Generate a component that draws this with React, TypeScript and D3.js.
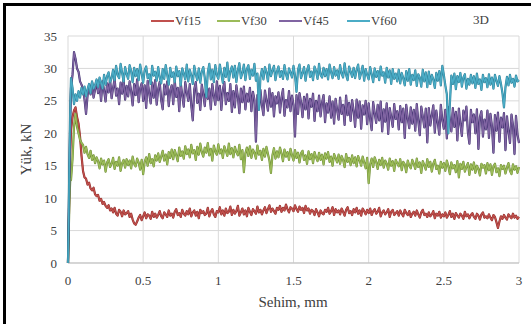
import React from "react";
import * as d3 from "d3";

const W = 531;
const H = 324;

const xTicks = [0, 0.5, 1, 1.5, 2, 2.5, 3];
const yTicks = [0, 5, 10, 15, 20, 25, 30, 35];
const seriesNames = ["Vf15", "Vf30", "Vf45", "Vf60"];
const seriesColors = ["#C0504D", "#9BBB59", "#8064A2", "#4BACC6"];
const seriesEdge = ["#8E2A27", "#6E8C35", "#3E2F6E", "#2E7F96"];

// deflection sampling (mm): fine steps at the start, then every 0.01 mm
const earlyX = [0, 0.005, 0.01, 0.015, 0.02, 0.03, 0.04, 0.05, 0.06, 0.07, 0.08, 0.09];
const mainX = d3.range(291).map((i) => +(0.1 + 0.01 * i).toFixed(3));

const vf15 = [
  0, 6, 12, 17, 20.5, 22.5, 23.5, 24, 22.5, 21.5, 19.5, 16.5,
  14.2, 13.2, 13.0, 12.1, 12.4, 11.5, 11.2, 11.6, 10.6, 10.3,
  10.5, 9.6, 9.9, 9.1, 9.4, 8.8, 8.5, 8.9, 8.1, 8.4,
  7.8, 8.5, 7.6, 7.3, 8.2, 7.9, 7.2, 8.1, 7.5, 7.7,
  8.0, 7.1, 7.6, 6.7, 6.1, 5.9, 6.4, 7.0, 7.4, 6.6,
  7.2, 7.8, 6.9, 7.5, 7.3, 6.8, 7.9, 7.1, 7.6, 7.0,
  7.4, 8.0, 7.2, 6.9, 7.8, 7.5, 7.1, 8.1, 7.3, 7.6,
  7.0, 7.9, 8.3, 7.4, 7.7, 7.1, 8.2, 7.6, 7.3, 8.0,
  7.5, 8.4, 7.2, 7.8, 8.1, 7.3, 7.9, 6.9, 8.2, 7.7,
  8.0, 7.4, 7.6, 8.5, 7.2, 7.9, 8.3, 7.5, 7.1, 8.0,
  7.8, 8.6, 7.5, 8.1, 7.3, 8.4, 7.7, 7.9, 8.7, 7.4,
  8.2, 7.6, 8.0, 8.8, 7.3, 7.8, 8.4, 7.5, 8.1, 7.2,
  8.5, 7.9, 7.4, 8.3, 8.0, 7.6, 8.7, 7.8, 8.2, 7.5,
  8.1, 8.6, 7.7, 8.3, 8.9, 7.9, 8.4, 8.0, 7.6, 8.5,
  8.2, 8.8, 7.9, 8.5, 8.1, 9.0, 8.3, 7.8, 8.6, 8.4,
  8.0, 8.9, 8.3, 7.9, 8.7, 8.2, 8.5, 7.7, 8.8, 8.1,
  8.4, 7.6, 8.2, 8.0, 7.4, 8.3, 7.8, 7.2, 8.1, 7.7,
  7.5, 8.2, 7.9, 8.5, 7.6, 8.0, 8.6, 7.4, 8.3, 7.8,
  8.1, 7.5, 8.4, 7.9, 7.3, 8.2, 8.6, 7.7, 8.0, 7.4,
  8.3, 7.8, 8.5, 7.6, 8.1, 7.3, 8.4, 8.0, 7.5, 8.2,
  7.7, 8.4, 7.4, 8.0, 8.3, 7.6, 7.9, 8.5, 7.2, 7.8,
  8.1, 7.5, 7.8, 8.3, 7.1, 7.9, 8.2, 7.4, 7.7, 8.0,
  7.3, 8.1, 7.6, 7.2, 8.2, 7.7, 7.4, 8.0, 7.1, 7.6,
  7.9, 7.3, 8.1, 7.5, 7.0, 7.8, 8.2, 7.4, 7.6, 7.1,
  7.8, 7.2, 7.5, 8.0, 6.9, 7.6, 7.3, 7.9, 7.0, 7.5,
  7.2, 7.8, 7.0, 7.4, 8.0, 7.1, 7.6, 6.8, 7.7, 7.3,
  7.0, 7.6, 7.3, 6.8, 7.9, 7.2, 7.5, 6.9, 7.4, 7.7,
  7.1, 6.8, 7.6, 7.3, 6.7, 7.5, 7.8, 7.0, 7.2, 6.9,
  7.5, 7.0, 6.6, 7.4, 7.1, 6.3, 5.4, 6.4, 7.2, 6.8,
  7.4, 7.0, 6.7, 7.5, 7.2, 6.9, 7.6, 7.0, 7.3, 6.8,
  7.1,
];

const vf30 = [
  0, 5, 10, 13, 12.8, 16, 21, 23, 21, 20, 19, 18.5,
  18.2, 17.0, 17.9, 16.8, 16.2, 17.3, 15.9, 16.6, 15.4, 16.3,
  15.7, 14.6, 16.1, 15.2, 15.8, 14.1, 15.5, 16.0, 14.8, 15.3,
  16.2, 14.5, 15.6, 15.0, 16.3, 14.2, 15.4, 15.9, 14.7, 16.0,
  15.1, 15.8, 14.6, 16.4, 15.3, 14.9, 16.1, 15.5, 14.4, 15.9,
  13.7, 15.6, 16.3, 15.0, 16.8, 15.4, 16.0, 14.9, 16.6, 15.8,
  16.9, 15.6, 16.4, 17.3, 15.8, 16.7, 15.2, 17.1, 16.2, 17.5,
  16.0, 17.4, 16.6, 15.7, 17.8, 16.5, 17.2, 16.1, 18.0, 16.8,
  17.5, 16.3, 18.2, 16.9, 17.4, 15.9, 17.9, 16.7, 18.4, 17.1,
  16.4, 17.8, 17.0, 18.5, 16.6, 17.6, 15.8, 18.1, 17.2, 16.7,
  18.3, 16.9, 17.5, 16.2, 18.0, 17.3, 16.5, 18.4, 16.8, 17.7,
  16.3, 17.9, 17.1, 16.6, 18.2, 16.0, 17.4, 14.0, 16.9, 17.8,
  16.5, 18.0, 16.2, 17.5, 17.0, 16.1, 18.1, 16.7, 17.3, 15.9,
  17.6, 16.4, 17.9, 16.8, 15.8, 13.9, 16.6, 17.7, 16.1, 17.2,
  16.3, 17.8, 16.9, 15.7, 17.5, 16.4, 17.1, 15.9, 17.6, 16.6,
  15.8, 17.4, 16.2, 17.0, 15.5, 16.9, 17.3, 15.9, 16.6, 15.3,
  17.2, 16.0, 16.8, 15.4, 17.1, 16.3, 15.7, 17.0, 15.9, 16.7,
  15.2, 16.9, 16.1, 17.1, 15.6, 16.4, 15.0, 16.8, 16.2, 15.5,
  16.7, 15.3, 16.5, 15.9, 14.8, 16.8, 15.6, 16.2, 15.1, 16.6,
  15.4, 16.3, 14.9, 16.5, 15.8, 15.0, 16.4, 15.5, 14.6, 16.2,
  12.3, 15.2, 16.1, 14.8, 16.3, 15.6, 14.5, 15.9, 15.1, 16.2,
  14.7, 15.8, 15.3, 14.4, 16.1, 15.0, 15.7, 14.2, 15.9, 15.4,
  14.9, 16.0, 14.3, 15.6, 15.2, 14.0, 15.8, 15.0, 14.6, 15.9,
  15.3, 14.5, 16.1, 14.8, 15.5, 13.9, 15.7, 15.1, 14.4, 16.0,
  14.8, 15.6, 14.1, 15.3, 15.9, 14.5, 15.0, 13.8, 15.6, 14.7,
  15.4, 14.2, 15.8, 14.9, 13.7, 15.5, 14.6, 15.1, 14.0, 15.7,
  13.2, 15.3, 14.5, 15.6, 14.1, 14.8, 15.4, 13.6, 15.2, 14.4,
  15.5, 13.9, 15.0, 14.5, 13.5, 15.3, 14.7, 15.1, 13.8, 15.4,
  14.3, 15.2, 13.6, 14.9, 15.3, 14.0, 14.6, 13.4, 15.1, 14.5,
  15.0, 13.8, 14.7, 15.4, 14.2, 13.7, 15.2, 14.4, 14.9, 13.9,
  14.8,
];

const vf45 = [
  0, 7, 15, 22, 27, 29, 32.5, 31.5, 30, 29.5, 28, 27.5,
  26.8, 25.2, 23.0, 25.8, 27.4, 26.0, 27.9, 25.5, 26.7, 28.1,
  26.2, 27.5, 25.0, 28.0, 26.6, 24.9, 27.7, 26.3, 28.3, 25.4,
  27.0, 28.4, 25.8, 26.9, 24.5, 27.8, 26.1, 28.2, 25.2, 27.3,
  25.7, 28.0, 26.5, 24.3, 27.6, 25.9, 28.3, 24.8, 26.9, 27.7,
  25.0, 27.4, 23.9, 28.1, 26.2, 24.6, 27.8, 25.5, 28.2, 24.4,
  26.8, 27.9, 25.1, 23.7, 27.5, 26.0, 28.0, 24.2, 26.6, 27.4,
  24.5, 28.1, 25.6, 27.0, 23.4, 27.7, 25.9, 24.1, 27.9, 26.3,
  25.0, 27.6, 24.3, 22.0, 26.8, 27.9, 24.7, 26.1, 23.6, 27.5,
  26.0, 24.2, 27.8, 25.3, 26.9, 23.7, 27.6, 25.8, 24.4, 28.0,
  25.1, 27.3, 23.6, 26.7, 27.9, 24.5, 26.2, 25.0, 27.6, 23.3,
  26.5, 24.0, 27.4, 25.6, 23.1, 26.9, 24.8, 27.2, 23.7, 26.1,
  24.9, 27.0, 23.4, 26.4, 25.2, 18.7, 25.9, 23.8, 26.7, 24.3,
  22.8, 26.6, 25.0, 23.5, 26.9, 24.1, 26.2, 22.6, 25.7, 24.6,
  26.3, 23.2, 25.5, 26.8, 22.7, 25.1, 24.0, 26.5, 23.4, 25.8,
  24.4, 19.5, 25.9, 23.0, 26.2, 24.8, 22.5, 25.6, 23.7, 26.0,
  22.3, 25.3, 24.1, 26.1, 21.9, 25.0, 23.4, 25.8, 22.6, 24.7,
  25.9, 21.7, 24.6, 23.2, 25.7, 22.4, 24.9, 21.5, 25.3, 23.6,
  22.1, 25.5, 23.0, 24.4, 21.3, 25.8, 22.8, 24.7, 21.9, 25.1,
  23.5, 21.0, 25.2, 22.4, 24.9, 20.7, 24.3, 22.9, 25.0, 21.4,
  24.6, 22.2, 20.5, 24.8, 23.1, 21.6, 24.4, 22.0, 24.9, 20.3,
  23.7, 21.8, 24.6, 19.9, 23.9, 22.5, 21.0, 24.5, 22.2, 23.4,
  20.6, 24.2, 21.7, 23.8, 19.3, 24.4, 22.3, 20.8, 24.0, 21.5,
  23.6, 20.4, 24.5, 21.9, 19.7, 24.1, 22.6, 20.9, 23.8, 18.6,
  23.9, 21.2, 22.8, 24.3, 20.1, 23.5, 21.6, 19.8, 24.4, 22.0,
  20.7, 23.6, 19.2, 24.0, 22.1, 20.3, 23.9, 21.0, 23.3, 18.9,
  23.8, 21.4, 19.6, 23.5, 22.0, 24.1, 20.2, 18.4, 23.6, 21.7,
  22.9, 20.0, 23.7, 17.6, 22.5, 23.4, 19.5, 22.1, 20.6, 23.5,
  19.3, 23.0, 21.1, 17.0, 22.8, 20.4, 23.2, 18.7, 22.4, 20.9,
  23.1, 17.4, 22.6, 20.3, 18.5, 22.9, 21.2, 16.8, 22.7, 19.8,
  18.5,
];

const vf60 = [
  0, 8, 17, 24, 28.5, 27, 24.5, 26, 25, 26.5, 25.5, 27,
  26.0, 27.2, 25.7, 26.8, 27.6, 26.2, 28.0, 26.9, 27.4, 28.3,
  27.1, 28.6, 27.8, 26.9, 29.0, 27.5, 28.8, 29.4, 27.9, 28.5,
  29.8, 28.2, 30.4, 29.0, 28.5, 30.7, 29.3, 28.0, 30.2, 29.1,
  28.4, 30.5, 29.6, 27.9, 30.1, 28.8, 29.9, 28.2, 30.6, 29.2,
  27.8, 29.7, 30.3, 28.5, 29.1, 27.6, 30.4, 28.9, 29.5, 28.1,
  30.2, 28.6, 27.7, 29.9, 28.4, 30.5, 29.0, 27.5, 30.1, 28.7,
  29.4, 27.9, 30.3, 28.8, 29.6, 27.4, 30.0, 29.2, 28.3, 30.6,
  28.0, 29.8, 28.9, 27.6, 30.4, 29.1, 28.2, 30.0, 27.8, 29.5,
  30.2, 28.5, 25.6, 29.4, 30.7, 28.3, 29.8, 27.9, 30.5, 29.0,
  28.4, 30.6, 29.2, 27.8, 30.1, 28.7, 30.9, 28.1, 29.6, 30.3,
  28.6, 30.4, 27.9, 29.7, 30.8, 28.5, 29.3, 30.6, 28.2, 29.9,
  30.5, 28.4, 29.8, 28.9, 30.7, 28.1, 29.2, 23.6, 28.6, 29.9,
  28.3, 30.2, 29.4, 28.0, 30.6, 28.8, 29.7, 30.4, 28.2, 29.5,
  30.3, 28.7, 29.6, 28.4, 30.5, 29.1, 28.3, 30.0, 29.4, 28.6,
  30.4, 28.9, 26.4, 29.8, 30.6, 28.5, 29.3, 30.2, 28.1, 29.7,
  30.5, 28.7, 29.5, 28.2, 30.3, 29.6, 28.4, 30.7, 29.0, 28.6,
  30.1, 28.8, 29.9, 28.3, 30.6, 29.4, 28.5, 30.2, 28.9, 29.7,
  28.4, 30.5, 29.2, 28.6, 30.8, 29.0, 28.2, 30.3, 29.5, 28.7,
  30.1, 28.5, 29.8, 30.6, 28.4, 29.3, 30.4, 28.1, 29.9, 29.0,
  28.3, 30.2, 29.1, 27.9, 30.0, 28.7, 29.6, 28.2, 30.3, 28.9,
  29.4, 27.8, 30.1, 28.6, 29.7, 27.6, 29.9, 28.4, 29.2, 28.0,
  29.8, 27.7, 29.3, 28.5, 27.4, 29.6, 28.1, 29.9, 27.5, 29.0,
  28.2, 29.7, 27.3, 29.1, 28.6, 27.2, 29.8, 28.0, 29.4, 27.1,
  29.5, 27.6, 29.0, 28.3, 27.0, 29.3, 28.1, 29.6, 27.4, 30.4,
  29.0, 27.4, 26.0, 20.0, 24.5, 28.9, 27.6, 29.2, 26.8, 28.8,
  27.9, 29.3, 27.2, 28.6, 29.1, 26.9, 28.4, 27.5, 29.0, 27.7,
  28.8, 27.0, 29.2, 27.6, 28.3, 26.7, 29.0, 27.9, 28.5, 27.1,
  29.1, 27.5, 28.6, 26.9, 29.0, 28.1, 27.3, 28.8, 27.6, 26.2,
  24.0, 27.1, 28.7, 27.4, 29.0, 27.8, 28.4, 27.2, 28.9, 28.0,
  28.2,
];

const seriesValues = [vf15, vf30, vf45, vf60];
const allX = [...earlyX, ...mainX];

const legendLineX = [151, 217, 279, 347];

const FONT = "Liberation Serif";

export default function App() {
  const x = d3.scaleLinear().domain([0, 3]).range([68, 519]);
  const y = d3.scaleLinear().domain([0, 35]).range([263, 36]);
  const line = d3
    .line<number>()
    .defined((_, i) => i < allX.length)
    .x((_, i) => x(allX[i]))
    .y((d) => y(d));

  const textColor = "#404040";

  return (
    <svg width={W} height={H} style={{ position: "absolute", left: 0, top: 0 }}>
      <rect x={0} y={0} width={W} height={H} fill="#fff" />
      {/* outer frame (top & left visible) */}
      <line x1={3} y1={4.5} x2={W} y2={4.5} stroke="#000" strokeWidth={3} />
      <line x1={4.5} y1={3} x2={4.5} y2={H} stroke="#000" strokeWidth={3} />

      {/* gridlines */}
      {yTicks.map((t) => (
        <line key={"gy" + t} x1={x(0)} x2={x(3)} y1={y(t)} y2={y(t)} stroke="#d9d9d9" strokeWidth={1} />
      ))}
      {xTicks.map((t) => (
        <line key={"gx" + t} x1={x(t)} x2={x(t)} y1={y(0)} y2={y(35)} stroke="#d9d9d9" strokeWidth={1} />
      ))}
      <line x1={x(0)} x2={x(3)} y1={y(0)} y2={y(0)} stroke="#bfbfbf" strokeWidth={1} />

      {/* series: dark edge underneath, colour on top */}
      {seriesValues.map((vals, si) => {
        const d = line(vals) || "";
        return (
          <g key={seriesNames[si]}>
            <path d={d} fill="none" stroke={seriesEdge[si]} strokeWidth={2.2} strokeLinejoin="round" />
            <path d={d} fill="none" stroke={seriesColors[si]} strokeWidth={1.3} strokeLinejoin="round" />
          </g>
        );
      })}

      {/* y tick labels */}
      {yTicks.map((t) => (
        <text key={"ty" + t} x={57} y={y(t) + 4.5} textAnchor="end" fontSize={13} fill={textColor} fontFamily={FONT}>
          {t}
        </text>
      ))}
      {/* x tick labels */}
      {xTicks.map((t) => (
        <text key={"tx" + t} x={x(t)} y={285} textAnchor="middle" fontSize={13} fill={textColor} fontFamily={FONT}>
          {t}
        </text>
      ))}

      <text x={293} y={307} textAnchor="middle" fontSize={15} fill={textColor} fontFamily={FONT}>
        Sehim, mm
      </text>
      <text
        transform={`translate(31, ${y(17.5)}) rotate(-90)`}
        textAnchor="middle"
        fontSize={15}
        fill={textColor}
        fontFamily={FONT}
      >
        Yük, kN
      </text>

      {/* legend */}
      {seriesNames.map((n, i) => (
        <g key={"lg" + n}>
          <line x1={legendLineX[i]} x2={legendLineX[i] + 23} y1={21} y2={21} stroke={seriesColors[i]} strokeWidth={2} />
          <text x={legendLineX[i] + 24} y={25} fontSize={12.5} fill={textColor} fontFamily={FONT}>
            {n}
          </text>
        </g>
      ))}
      <text x={473} y={24} fontSize={13} fill={textColor} fontFamily={FONT}>
        3D
      </text>
    </svg>
  );
}
